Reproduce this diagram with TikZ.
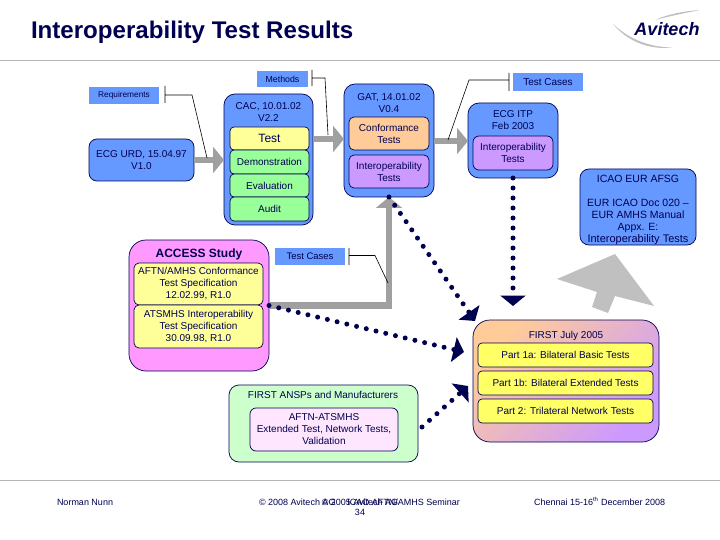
\documentclass[tikz,border=0pt]{standalone}
\usepackage{fontspec}
\setmainfont{Liberation Sans}
\usetikzlibrary{arrows.meta,calc}
\definecolor{navy}{HTML}{000050}
\definecolor{bluef}{HTML}{6699FF}
\definecolor{greenf}{HTML}{99FF99}
\definecolor{yellowf}{HTML}{FFFF99}
\definecolor{yellowg}{HTML}{FFFF66}
\definecolor{orangef}{HTML}{FFCC99}
\definecolor{purplef}{HTML}{CC99FF}
\definecolor{pinkf}{HTML}{FF99FF}
\definecolor{mintf}{HTML}{CCFFCC}
\definecolor{paleF}{HTML}{FFE6FF}
\definecolor{arrowgrey}{HTML}{A0A0A0}
\definecolor{bigg}{HTML}{C0C0C0}
\definecolor{rulegrey}{HTML}{B4B4B4}
\newcommand{\fz}[1]{\fontsize{#1}{12}\selectfont}
\newcommand{\bx}[7]{\node[#6,minimum width={(#4-#2)*1pt},minimum height={(#5-#3)*1pt}] (#1) at ({(#2+#4)/2},{(#3+#5)/2}) {#7};}
\tikzset{
  base/.style={inner sep=0pt,outer sep=0pt,align=center,text=navy,font=\fz{10}},
  boxed/.style={base,draw=navy,line width=0.7pt,rectangle,rounded corners=#1},
  boxed/.default=5pt,
  tag/.style={base,fill=bluef},
  txt/.style={base},
  fat/.style={draw=arrowgrey,line width=6.5pt,-{Triangle[length=11pt,width=26pt]}},
  dots/.style={draw=navy,line width=5pt,line cap=round,dash pattern=on 0pt off 10pt,-{Triangle[length=10.5pt,width=25pt]}},
  call/.style={draw=black,line width=0.6pt},
}
\begin{document}
\begin{tikzpicture}[x=1pt,y=-1pt]
\useasboundingbox (0,0) rectangle (720,540);
\fill[white] (0,0) rectangle (720,540);
% rules and title
\coordinate (rt1) at (0,60); \coordinate (rt2) at (720,60);
\coordinate (rb1) at (0,480.5); \coordinate (rb2) at (720,480.5);
\draw[rulegrey,line width=0.8pt] (rt1) -- (rt2);
\draw[rulegrey,line width=0.8pt] (rb1) -- (rb2);
\node[base,anchor=base west,font=\bfseries\fz{24.1}] (title) at (31,38.5) {Interoperability Test Results};
% logo
\fill[bigg] (613,24) .. controls (630,40) and (650,47) .. (672,47.5) .. controls (650,50) and (628,42) .. (613,24) -- cycle;
\fill[bigg] (655,20) .. controls (668,14) and (685,11) .. (700,10) .. controls (685,13) and (670,16) .. (655,20) -- cycle;
\node[base,font=\bfseries\itshape\fz{18},anchor=base] (logo) at (667,35.5) {Avitech};
% labels
\bx{req}{89}{87}{159}{104}{tag}{\fz{8.3}Requirements}
\bx{meth}{257}{71}{308}{87}{tag}{\fz{8.8}Methods}
\bx{tc1}{513}{73}{583}{91}{tag}{Test Cases}
\bx{tc2}{275}{248}{345}{265}{tag}{\fz{9.5}Test Cases}
% boxes
\bx{urd}{89}{139}{194}{181}{boxed=8pt,fill=bluef}{ECG URD, 15.04.97\\V1.0}
\bx{cac}{224}{94}{313}{225}{boxed=11pt,fill=bluef}{}
\node[txt] (cact) at (268.5,112) {CAC, 10.01.02\\V2.2};
\bx{test}{230}{127}{309}{150}{boxed=4pt,fill=yellowf}{\fz{12}Test}
\bx{demo}{230}{150}{309}{174}{boxed=4pt,fill=greenf}{Demonstration}
\bx{eval}{230}{174}{309}{197}{boxed=4pt,fill=greenf}{Evaluation}
\bx{audit}{230}{197}{309}{221}{boxed=4pt,fill=greenf}{Audit}
\bx{gat}{344}{84}{434}{197}{boxed=11pt,fill=bluef}{}
\node[txt] (gatt) at (389,103) {GAT, 14.01.02\\V0.4};
\bx{conf}{349}{117}{429}{150}{boxed=5pt,fill=orangef}{Conformance\\Tests}
\bx{iop}{349}{155}{429}{188}{boxed=5pt,fill=purplef}{Interoperability\\Tests}
\bx{itp}{468}{103}{558}{178}{boxed=11pt,fill=bluef}{}
\node[txt] (itpt) at (513,120) {ECG ITP\\Feb 2003};
\bx{itpi}{473}{136}{553}{170}{boxed=6pt,fill=purplef}{Interoperability\\Tests}
\bx{icao}{580}{169}{696}{245}{boxed=9pt,fill=bluef}{}
\node[txt] (icaot) at (638,209.5) {\fz{10.5}ICAO EUR AFSG\\[12pt]\fz{10.5}EUR ICAO Doc 020 --\\\fz{10.5}EUR AMHS Manual\\\fz{10.5}Appx. E:\\\fz{11}Interoperability Tests};
\bx{access}{129}{240}{269}{371}{boxed=17pt,fill=pinkf}{}
\node[txt,font=\bfseries\fz{12}] (acct) at (199,254) {ACCESS Study};
\bx{aftn}{134}{263}{263}{305}{boxed=5pt,fill=yellowf}{AFTN/AMHS Conformance\\Test Specification\\12.02.99, R1.0}
\bx{atsm}{134}{305}{263}{348}{boxed=5pt,fill=yellowf}{ATSMHS Interoperability\\Test Specification\\30.09.98, R1.0}
\bx{first}{473}{320}{659}{442}{boxed=17pt,top color=orangef,bottom color=purplef,shading angle=45}{}
\node[txt] (firstt) at (566,336) {FIRST July 2005};
\bx{p1a}{478}{343}{653}{367}{boxed=4pt,fill=yellowg}{Part 1a: Bilateral Basic Tests}
\bx{p1b}{478}{371}{653}{395}{boxed=4pt,fill=yellowg}{Part 1b: Bilateral Extended Tests}
\bx{p2}{478}{399}{653}{423}{boxed=4pt,fill=yellowg}{Part 2: Trilateral Network Tests}
\bx{ansp}{229}{385}{418}{462}{boxed=10pt,fill=mintf}{}
\node[txt] (anspt) at (323,395) {FIRST ANSPs and Manufacturers};
\bx{afat}{250}{408}{398}{451}{boxed=6pt,fill=paleF}{AFTN-ATSMHS\\Extended Test, Network Tests,\\Validation}
% grey block arrows
\draw[fat] (urd.east) -- (urd.east -| cac.west);
\draw[fat] ($(cac.east)+(0,-20.5)$) -- ($(gat.west)+(0,-1.5)$);
\draw[fat] ($(gat.east)+(0,0.5)$) -- ($(itp.west)+(0,0.5)$);
\draw[fat] (access.east) -| (gat.south);
\fill[bigg] (557,279) -- (615,254) -- (654,306) -- (615,296) -- (608,313) -- (592,307) -- (597,292) -- cycle;
% dotted arrows
\coordinate (d1e) at (475,321);
\coordinate (d2e) at (464,352);
\coordinate (d3s) at (422,427);
\coordinate (d3e) at (468,386);
\coordinate (d4e) at (513,306);
\draw[dots] (gat.south) -- (d1e);
\draw[dots] (access.east) -- (d2e);
\draw[dots] (d3s) -- (d3e);
\draw[dots] (itp.south) -- (d4e);
% call-out lines
\coordinate (c1a) at (165,86); \coordinate (c1b) at (165,103); \coordinate (c1c) at (165,95); \coordinate (c1d) at (192,95); \coordinate (c1e) at (207,158);
\coordinate (c2a) at (312,70); \coordinate (c2b) at (312,86); \coordinate (c2c) at (312,78); \coordinate (c2d) at (325,78); \coordinate (c2e) at (328,135);
\coordinate (c3a) at (509,73); \coordinate (c3b) at (509,91); \coordinate (c3c) at (509,80); \coordinate (c3d) at (469,80); \coordinate (c3e) at (448,140);
\coordinate (c4a) at (349,248); \coordinate (c4b) at (349,265); \coordinate (c4c) at (349,255.5); \coordinate (c4d) at (375,255.5); \coordinate (c4e) at (388,283);
\draw[call] (c1a) -- (c1b) (c1c) -- (c1d) -- (c1e);
\draw[call] (c2a) -- (c2b) (c2c) -- (c2d) -- (c2e);
\draw[call] (c3a) -- (c3b) (c3c) -- (c3d) -- (c3e);
\draw[call] (c4a) -- (c4b) (c4c) -- (c4d) -- (c4e);
% footer
\node[base,anchor=base west,font=\fz{9}] (f1) at (57,505) {Norman Nunn};
\node[base,anchor=base west,font=\fz{9}] (f2) at (259,505) {© 2008 Avitech AG};
\node[base,anchor=base,font=\fz{9}] (f3) at (360,505) {© 2005 Avitech AG};
\node[base,anchor=base east,font=\fz{9}] (f4) at (460,505) {ICAO AFTN/AMHS Seminar};
\node[base,anchor=base,font=\fz{9}] (f5) at (360,515.5) {34};
\node[base,anchor=base west,font=\fz{9}] (f6) at (534,505) {Chennai 15-16\textsuperscript{th} December 2008};
\end{tikzpicture}
\end{document}
